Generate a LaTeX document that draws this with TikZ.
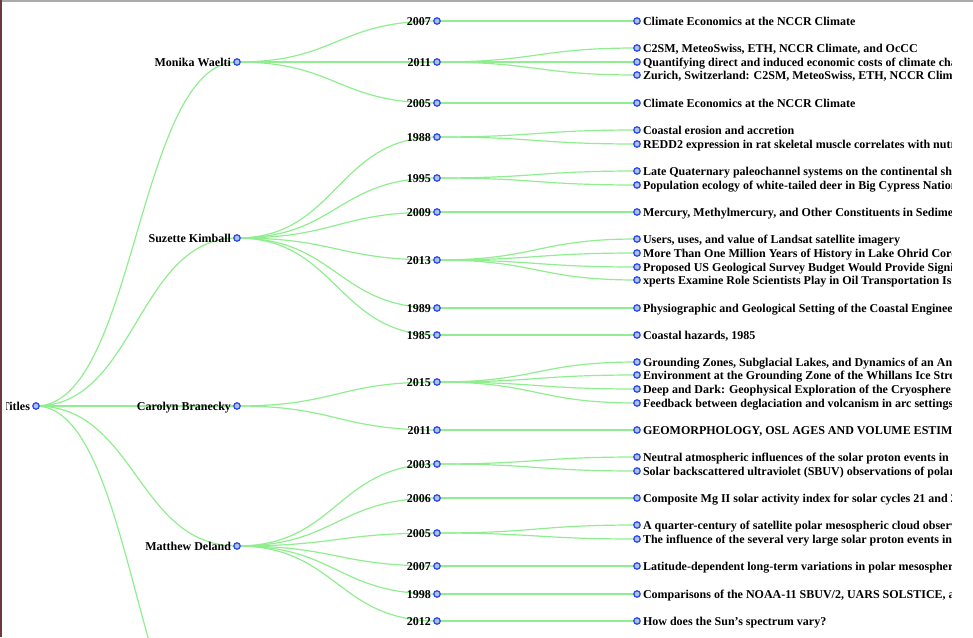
\documentclass[tikz,border=0pt]{standalone}
\usepackage{fontspec}
\setmainfont{Liberation Serif}
\usetikzlibrary{backgrounds}
\definecolor{linkgreen}{RGB}{144,238,144}
\definecolor{dotblue}{RGB}{45,75,250}
\definecolor{dotfill}{RGB}{176,196,222}
\definecolor{framegray}{RGB}{170,170,170}
\definecolor{framered}{RGB}{110,55,65}
\tikzset{
  link/.style={draw=linkgreen, line width=1.2pt},
  dot/.style={circle, draw=dotblue, fill=dotfill, line width=1.3pt, minimum size=6.4pt, inner sep=0pt},
  caption/.style={font=\fontsize{12}{14}\selectfont\bfseries, text height=11pt, text depth=2.6pt, inner sep=2pt},
  inner/.style={dot, label={[caption]left:{#1}}},
  leaf/.style={dot, label={[caption]right:{#1}}},
}
\begin{document}
\begin{tikzpicture}[x=1pt,y=-1pt]
    \useasboundingbox (0,0) rectangle (973,637);
    % the frame lines
    \draw[framegray, line width=1.2pt] (2,1) -- (973,1);
    \draw[framered, line width=1.6pt] (0.8,0) -- (0.8,637);
    \begin{scope}
        \clip (6,2) rectangle (951,637);
        % the root
        \node[inner=Titles] (titles) at (36,406) {};
        % the authors
        \node[inner={Monika Waelti}] (waelti) at (237,62) {};
        \node[inner={Suzette Kimball}] (kimball) at (237,238) {};
        \node[inner={Carolyn Branecky}] (branecky) at (237,406) {};
        \node[inner={Matthew Deland}] (deland) at (237,546) {};
        \coordinate (fifth) at (237,784);
        % the years of Monika Waelti
        \node[inner=2007] (w07) at (437,21) {};
        \node[inner=2011] (w11) at (437,62) {};
        \node[inner=2005] (w05) at (437,103) {};
        % the years of Suzette Kimball
        \node[inner=1988] (k88) at (437,137) {};
        \node[inner=1995] (k95) at (437,178) {};
        \node[inner=2009] (k09) at (437,212) {};
        \node[inner=2013] (k13) at (437,260) {};
        \node[inner=1989] (k89) at (437,308) {};
        \node[inner=1985] (k85) at (437,335) {};
        % the years of Carolyn Branecky
        \node[inner=2015] (b15) at (437,382) {};
        \node[inner=2011] (b11) at (437,430) {};
        % the years of Matthew Deland
        \node[inner=2003] (d03) at (437,464) {};
        \node[inner=2006] (d06) at (437,498) {};
        \node[inner=2005] (d05) at (437,533) {};
        \node[inner=2007] (d07) at (437,566) {};
        \node[inner=1998] (d98) at (437,594) {};
        \node[inner=2012] (d12) at (437,621) {};
        % the papers
        \node[leaf={Climate Economics at the NCCR Climate}] (w07a) at (637,21) {};
        \node[leaf={C2SM, MeteoSwiss, ETH, NCCR Climate, and OcCC}] (w11a) at (637,48) {};
        \node[leaf={Quantifying direct and induced economic costs of climate change}] (w11b) at (637,62) {};
        \node[leaf={Zurich, Switzerland: C2SM, MeteoSwiss, ETH, NCCR Climate}] (w11c) at (637,75) {};
        \node[leaf={Climate Economics at the NCCR Climate}] (w05a) at (637,103) {};
        \node[leaf={Coastal erosion and accretion}] (k88a) at (637,130) {};
        \node[leaf={REDD2 expression in rat skeletal muscle correlates with nutrient}] (k88b) at (637,144) {};
        \node[leaf={Late Quaternary paleochannel systems on the continental shelf}] (k95a) at (637,171) {};
        \node[leaf={Population ecology of white-tailed deer in Big Cypress National}] (k95b) at (637,185) {};
        \node[leaf={Mercury, Methylmercury, and Other Constituents in Sediment}] (k09a) at (637,212) {};
        \node[leaf={Users, uses, and value of Landsat satellite imagery}] (k13a) at (637,239) {};
        \node[leaf={More Than One Million Years of History in Lake Ohrid Cores}] (k13b) at (637,253) {};
        \node[leaf={Proposed US Geological Survey Budget Would Provide Significant}] (k13c) at (637,267) {};
        \node[leaf={xperts Examine Role Scientists Play in Oil Transportation Issues}] (k13d) at (637,280) {};
        \node[leaf={Physiographic and Geological Setting of the Coastal Engineering}] (k89a) at (637,308) {};
        \node[leaf={Coastal hazards, 1985}] (k85a) at (637,335) {};
        \node[leaf={Grounding Zones, Subglacial Lakes, and Dynamics of an Antarctic}] (b15a) at (637,362) {};
        \node[leaf={Environment at the Grounding Zone of the Whillans Ice Stream}] (b15b) at (637,375) {};
        \node[leaf={Deep and Dark: Geophysical Exploration of the Cryosphere}] (b15c) at (637,389) {};
        \node[leaf={Feedback between deglaciation and volcanism in arc settings}] (b15d) at (637,403) {};
        \node[leaf={GEOMORPHOLOGY, OSL AGES AND VOLUME ESTIMATES}] (b11a) at (637,430) {};
        \node[leaf={Neutral atmospheric influences of the solar proton events in}] (d03a) at (637,457) {};
        \node[leaf={Solar backscattered ultraviolet (SBUV) observations of polar}] (d03b) at (637,471) {};
        \node[leaf={Composite Mg II solar activity index for solar cycles 21 and 22}] (d06a) at (637,498) {};
        \node[leaf={A quarter-century of satellite polar mesospheric cloud observations}] (d05a) at (637,525) {};
        \node[leaf={The influence of the several very large solar proton events in}] (d05b) at (637,539) {};
        \node[leaf={Latitude-dependent long-term variations in polar mesospheric}] (d07a) at (637,566) {};
        \node[leaf={Comparisons of the NOAA-11 SBUV/2, UARS SOLSTICE, and}] (d98a) at (637,594) {};
        \node[leaf={How does the Sun's spectrum vary?}] (d12a) at (637,621) {};
    \end{scope}
    % the links, behind the nodes and their texts
    \begin{scope}[on background layer]
        \clip (6,2) rectangle (951,637);
        \foreach \a/\b in {titles/waelti, titles/kimball, titles/branecky, titles/deland, titles/fifth,
                waelti/w07, waelti/w11, waelti/w05,
                kimball/k88, kimball/k95, kimball/k09, kimball/k13, kimball/k89, kimball/k85,
                branecky/b15, branecky/b11,
                deland/d03, deland/d06, deland/d05, deland/d07, deland/d98, deland/d12,
                w07/w07a, w11/w11a, w11/w11b, w11/w11c, w05/w05a,
                k88/k88a, k88/k88b, k95/k95a, k95/k95b, k09/k09a,
                k13/k13a, k13/k13b, k13/k13c, k13/k13d, k89/k89a, k85/k85a,
                b15/b15a, b15/b15b, b15/b15c, b15/b15d, b11/b11a,
                d03/d03a, d03/d03b, d06/d06a, d05/d05a, d05/d05b, d07/d07a, d98/d98a, d12/d12a}
            \draw[link] (\a.center) .. controls +(100,0) and +(-100,0) .. (\b.center);
    \end{scope}
\end{tikzpicture}
\end{document}
